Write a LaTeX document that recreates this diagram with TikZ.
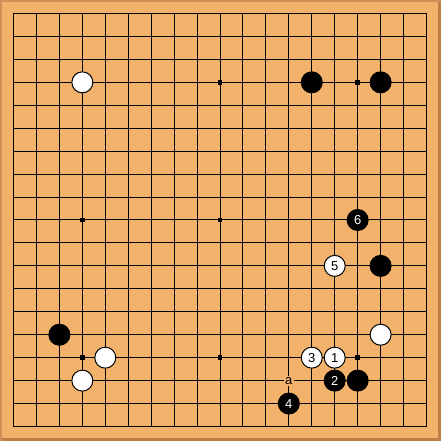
\documentclass[tikz,border=0pt]{standalone}
\usepackage{fontspec}
\setmainfont{Liberation Sans}
\definecolor{board}{RGB}{242,178,108}
\definecolor{edgelt}{RGB}{204,146,86}
\definecolor{edgedk}{RGB}{186,128,70}
\begin{document}
\begin{tikzpicture}[x=1pt,y=-1pt,
  stone/.style={circle,draw=black,line width=1pt,minimum size=21pt,inner sep=0pt,font=\fontsize{13}{13}\selectfont},
  bstone/.style={stone,fill=black,text=white},
  wstone/.style={stone,fill=white,text=black},
  marklabel/.style={fill=board,inner sep=1.5pt,font=\fontsize{13}{13}\selectfont}]
\useasboundingbox (0,0) rectangle (441,441);
\fill[board] (0,0) rectangle (441,441);
\fill[edgelt] (0,0) rectangle (2,441);
\fill[edgelt] (0,0) rectangle (441,2);
\fill[edgedk] (437.5,2) rectangle (441,441);
\fill[edgedk] (2,437.5) rectangle (441,441);
\begin{scope}[shift={(13.5,13.5)},x=22.944pt,y=-22.944pt]
  \foreach \i in {1,...,17}{
    \draw[line width=1pt] (\i,0) -- (\i,18);
    \draw[line width=1pt] (0,\i) -- (18,\i);}
  \draw[line width=1.7pt] (0,0) rectangle (18,18);
  \foreach \c in {3,9,15}{\foreach \r in {3,9,15}{
    \fill (\c,\r) ++(-2.2pt,-2.2pt) rectangle ++(4.4pt,4.4pt);}}
  % unnumbered stones
  \node[wstone] (w1) at (3,3) {};
  \node[bstone] (b1) at (13,3) {};
  \node[bstone] (b2) at (16,3) {};
  \node[bstone] (b3) at (16,11) {};
  \node[wstone] (w2) at (16,14) {};
  \node[bstone] (b4) at (2,14) {};
  \node[wstone] (w3) at (4,15) {};
  \node[wstone] (w4) at (3,16) {};
  \node[bstone] (b5) at (15,16) {};
  % numbered moves
  \node[wstone] (m1) at (14,15) {1};
  \node[bstone] (m2) at (14,16) {2};
  \node[wstone] (m3) at (13,15) {3};
  \node[bstone] (m4) at (12,17) {4};
  \node[wstone] (m5) at (14,11) {5};
  \node[bstone] (m6) at (15,9) {6};
  \node[marklabel] (la) at (12,16) {a};
\end{scope}
\end{tikzpicture}
\end{document}
